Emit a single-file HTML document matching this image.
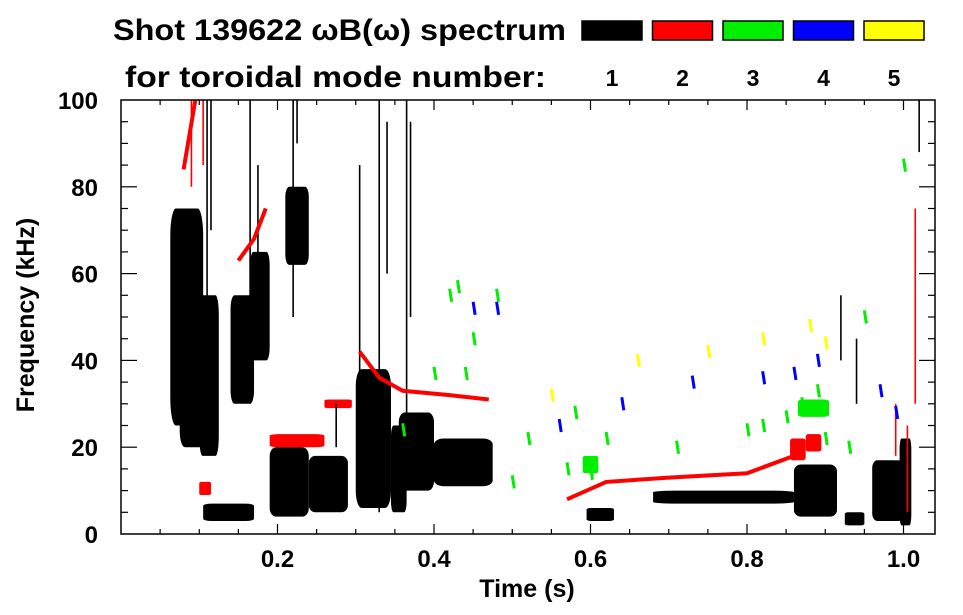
<!DOCTYPE html>
<html><head><meta charset="utf-8"><style>
body{margin:0;background:#fff;}
svg{display:block;font-family:"Liberation Sans",Arial,sans-serif;font-weight:bold;}
</style></head><body>
<svg id="chart" width="963" height="615" viewBox="0 0 963 615" xmlns="http://www.w3.org/2000/svg">
<text x="113" y="40" font-size="30" textLength="453" lengthAdjust="spacingAndGlyphs">Shot 139622 ωB(ω) spectrum</text>
<text x="125" y="87" font-size="30" textLength="421" lengthAdjust="spacingAndGlyphs">for toroidal mode number:</text>
<g id="legend"></g>
<g id="marks"></g>
<g id="axes"></g>
<text x="527" y="597" font-size="25" text-anchor="middle">Time (s)</text>
<text transform="translate(34,315) rotate(-90)" font-size="25" text-anchor="middle">Frequency (kHz)</text>
</svg>
<script>
const modeColors=["#000000","#ff0000","#00ee00","#0000ff","#ffff00"];
const modeLabels=["1","2","3","4","5"];
const xTicks=[0.2,0.4,0.6,0.8,1.0];
const xTickLabels=["0.2","0.4","0.6","0.8","1.0"];
const yTicks=[0,20,40,60,80,100];
const yTickLabels=["0","20","40","60","80","100"];
// blobs: time range, freq range, mode
const blobT0=[.063,.075,.10,.14,.165,.21,.19,.24,.30,.345,.355,.40,.105,.595,.68,.86,.925,.96,.995,.19,.26,.875,.855,.10,.865,.59];
const blobT1=[.105,.115,.125,.17,.19,.24,.24,.29,.345,.365,.40,.475,.17,.63,.86,.915,.95,1.0,1.01,.26,.295,.895,.875,.115,.905,.61];
const blobF0=[25,20,18,30,40,62,4,5,6,5,10,11,3,3,7,4,2,3,2,20,29,19,17,9,27,14];
const blobF1=[75,50,55,55,65,80,20,18,38,25,28,22,7,6,10,16,5,17,22,23,31,23,22,12,31,18];
const blobMode=[1,1,1,1,1,1,1,1,1,1,1,1,1,1,1,1,1,1,1,2,2,2,2,2,3,3];
// vertical streaks
const streakT=[.11,.115,.165,.175,.22,.225,.305,.33,.365,.37,1.02,.34,.275,.09,.105,1.015,.99,1.005,.92,.94];
const streakF0=[20,70,30,50,50,90,20,5,10,50,88,60,20,80,85,30,18,5,40,30];
const streakF1=[100,100,100,85,100,100,85,100,100,95,100,95,30,100,100,75,30,25,55,45];
const streakMode=[1,1,1,1,1,1,1,1,1,1,1,1,1,2,2,2,2,2,1,1];
// curves (red chirps)
const curveT=[[.08,.095],[.15,.17,.185],[.305,.33,.36,.42,.47],[.57,.62,.7,.8,.86]];
const curveF=[[84,100],[63,68,75],[42,36,33,32,31],[8,12,13,14,18]];
const curveMode=[2,2,2,2];
// short mode dashes
const dashT=[.43,.45,.40,.48,.36,.57,.60,.62,.82,.87,.89,.90,.80,.85,.93,.95,1.0,.44,.52,.50,.45,.48,.56,.64,.73,.82,.86,.89,.97,.99,.55,.66,.75,.82,.88,.90,.42,.58,.71];
const dashF=[57,45,37,55,24,15,14,22,25,30,33,22,24,27,20,50,85,37,22,12,52,52,25,30,35,36,37,40,33,28,32,40,42,45,48,44,55,28,20];
const dashMode=[3,3,3,3,3,3,3,3,3,3,3,3,3,3,3,3,3,3,3,3,4,4,4,4,4,4,4,4,4,4,5,5,5,5,5,5,3,3,3];

const NS="http://www.w3.org/2000/svg";
const L=121,R=935,T=100,B=534;
const xs=t=>L+t/0.2*156.5;
const ys=f=>B-(f/100)*(B-T);
function mk(tag,parent,attrs){const e=document.createElementNS(NS,tag);for(const k in attrs)e.setAttribute(k,attrs[k]);parent.appendChild(e);return e;}
const marks=document.getElementById('marks'),axes=document.getElementById('axes'),legend=document.getElementById('legend');

modeColors.forEach((c,i)=>{
  const r=mk('rect',legend,{x:582+i*70.5,y:21,width:60,height:19,fill:c,stroke:'#000','stroke-width':1.5});
  
  
  const t=mk('text',legend,{x:612+i*70.5,y:86,'font-size':23,'text-anchor':'middle'});
  t.textContent=modeLabels[i];
  
  
});

blobT0.forEach((t0,i)=>{
  const x0=xs(t0),x1=xs(blobT1[i]),y0=ys(blobF1[i]),y1=ys(blobF0[i]);
  const e=mk('rect',marks,{x:x0,y:y0,width:x1-x0,height:y1-y0,rx:(x1-x0)/6,ry:(y1-y0)/8,fill:modeColors[blobMode[i]-1]});
  
  
});
streakT.forEach((t,i)=>{
  const e=mk('line',marks,{x1:xs(t),x2:xs(t),y1:ys(streakF0[i]),y2:ys(streakF1[i]),stroke:modeColors[streakMode[i]-1],'stroke-width':1.6});
  
  
});
curveT.forEach((ts,i)=>{
  const pts=ts.map((t,j)=>xs(t)+','+ys(curveF[i][j])).join(' ');
  const e=mk('polyline',marks,{points:pts,fill:'none',stroke:modeColors[curveMode[i]-1],'stroke-width':4});
  
  
});
dashT.forEach((t,i)=>{
  const e=mk('line',marks,{x1:xs(t),x2:xs(t)+2,y1:ys(dashF[i]+1.5),y2:ys(dashF[i]-1.5),stroke:modeColors[dashMode[i]-1],'stroke-width':3});
  
  
});

const frame=mk('rect',axes,{x:L,y:T,width:R-L,height:B-T,fill:'none',stroke:'#000','stroke-width':1.5});


for(let t=0.05;t<1.04;t+=0.05){
  const major=Math.abs(t/0.2-Math.round(t/0.2))<1e-6, len=major?10:5;
  mk('line',axes,{x1:xs(t),x2:xs(t),y1:B,y2:B-len,stroke:'#000','stroke-width':1.2});
  mk('line',axes,{x1:xs(t),x2:xs(t),y1:T,y2:T+len,stroke:'#000','stroke-width':1.2});
}
for(let f=5;f<100;f+=5){
  const len=f%20===0?16:7;
  mk('line',axes,{x1:L,x2:L+len,y1:ys(f),y2:ys(f),stroke:'#000','stroke-width':1.2});
  mk('line',axes,{x1:R,x2:R-len,y1:ys(f),y2:ys(f),stroke:'#000','stroke-width':1.2});
}
xTicks.forEach((t,i)=>{
  const e=mk('text',axes,{x:xs(t),y:567,'font-size':24,'text-anchor':'middle'});
  e.textContent=xTickLabels[i];
  
  
});
yTicks.forEach((f,i)=>{
  const e=mk('text',axes,{x:98,y:ys(f)+9,'font-size':24,'text-anchor':'end'});
  e.textContent=yTickLabels[i];
  
  
});
</script>
</body></html>
